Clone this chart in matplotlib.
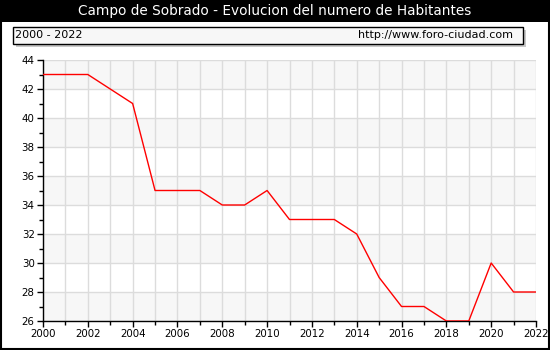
import matplotlib
matplotlib.use("Agg")
import matplotlib.pyplot as plt
from matplotlib.patches import Rectangle

years = list(range(2000, 2023))
habitantes = [43, 43, 43, 42, 41, 35, 35, 35, 34, 34, 35, 33, 33, 33, 32, 29, 27, 27, 26, 26, 30, 28, 28]
title = "Campo de Sobrado - Evolucion del numero de Habitantes"
period = "2000 - 2022"
url = "http://www.foro-ciudad.com"

W, H = 550, 350
fig = plt.figure(figsize=(W / 100, H / 100), dpi=100)
fig.patch.set_facecolor("white")

def fx(px):
    return px / W

def fy(py):
    return 1 - py / H

# title bar
fig.patches.append(Rectangle((0, fy(22)), 1, 22 / H, transform=fig.transFigure,
                             facecolor="black", edgecolor="none", zorder=0))
fig.text(0.5, fy(11), title, color="white", ha="center", va="center", fontsize=9.8,
         family="DejaVu Sans")
# outer frame
fig.patches.append(Rectangle((fx(0.5), fy(349)), (W - 1.5) / W, (349 - 0.5) / H,
                             transform=fig.transFigure, facecolor="none",
                             edgecolor="black", linewidth=1.5, zorder=5))
# info box with shadow
fig.patches.append(Rectangle((fx(16), fy(47)), 510 / W, 17 / H, transform=fig.transFigure,
                             facecolor="#c8c8c8", edgecolor="none", zorder=1))
fig.patches.append(Rectangle((fx(13), fy(44)), 510 / W, 17 / H, transform=fig.transFigure,
                             facecolor="#f7f7f7", edgecolor="black", linewidth=1, zorder=2))
fig.text(fx(15), fy(35.5), period, ha="left", va="center", fontsize=8, zorder=3)
fig.text(fx(513), fy(35.5), url, ha="right", va="center", fontsize=8, zorder=3)

ax = fig.add_axes([fx(43), fy(321), (536 - 43) / W, (321 - 60) / H])
ax.set_xlim(2000, 2022)
ax.set_ylim(26, 44)

for lo in range(26, 44, 4):
    ax.axhspan(lo, lo + 2, color="#f7f7f7", zorder=0, linewidth=0)

ax.set_xticks(range(2000, 2023, 2))
ax.set_xticks(range(2000, 2023), minor=True)
ax.set_yticks(range(26, 45, 2))
ax.set_yticks(range(26, 45), minor=True)
ax.grid(True, which="major", color="#dcdcdc", linewidth=1, zorder=1)
ax.grid(True, which="minor", axis="x", color="#dcdcdc", linewidth=1, zorder=1)

ax.plot(years, habitantes, color="red", linewidth=1, zorder=3)

for s in ["top", "right"]:
    ax.spines[s].set_visible(False)
for s in ["left", "bottom"]:
    ax.spines[s].set_linewidth(1)
    ax.spines[s].set_color("black")
ax.tick_params(which="both", direction="out", length=4, width=1, labelsize=7.4, pad=2)
ax.tick_params(which="minor", length=3)

fig.savefig("out.png", dpi=100)
